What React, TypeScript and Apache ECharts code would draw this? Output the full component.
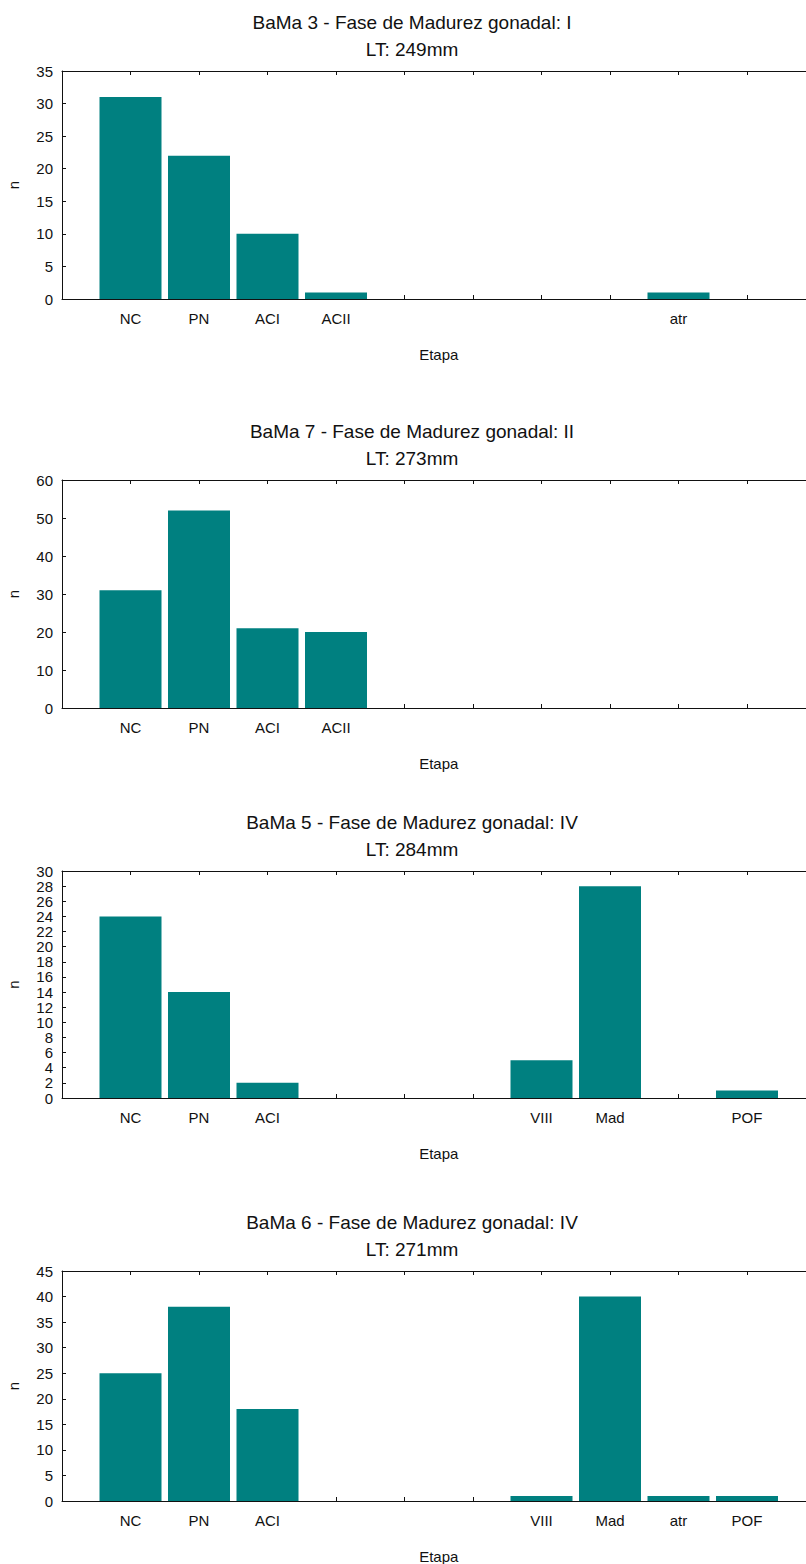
import React, { useEffect, useRef } from "react";
import * as echarts from "echarts";

// Stage categories (positions 5 and 6 never carry data, so their names are not shown)
const stages: string[] = ["NC", "PN", "ACI", "ACII", "", "", "VIII", "Mad", "atr", "POF"];

// Counts per stage for each specimen (null = no bar drawn)
const bama3: (number | null)[] = [31, 22, 10, 1, 0, 0, 0, 0, 1, null];
const bama7: (number | null)[] = [31, 52, 21, 20, null, null, null, null, null, null];
const bama5: (number | null)[] = [24, 14, 2, 0, 0, 0, 5, 28, 0, 1];
const bama6: (number | null)[] = [25, 38, 18, 0, 0, 0, 1, 40, 1, 1];

const titles: string[] = [
  "BaMa 3 - Fase de Madurez gonadal: I",
  "BaMa 7 - Fase de Madurez gonadal: II",
  "BaMa 5 - Fase de Madurez gonadal: IV",
  "BaMa 6 - Fase de Madurez gonadal: IV",
];
const subtitles: string[] = ["LT: 249mm", "LT: 273mm", "LT: 284mm", "LT: 271mm"];
const yMax: number[] = [35, 60, 30, 45];
const yStep: number[] = [5, 10, 2, 5];
const xMax = 11;
const panels = [bama3, bama7, bama5, bama6];

const gridTops = [71, 480, 871, 1271];
const gridHeights = [228, 228, 227, 230];
const GRID_LEFT = 62;
const GRID_WIDTH = 753.5;
const FONT = "'Liberation Sans', Arial, sans-serif";

export default function App() {
  const ref = useRef<HTMLDivElement>(null);
  useEffect(() => {
    if (!ref.current) return;
    const chart = echarts.init(ref.current, null, { renderer: "svg" });
    const grid: any[] = [];
    const xAxis: any[] = [];
    const yAxis: any[] = [];
    const series: any[] = [];
    const graphic: any[] = [];
    const axisLineStyle = { color: "#111", width: 1 };

    panels.forEach((data, p) => {
      grid.push({
        left: GRID_LEFT,
        top: gridTops[p],
        width: GRID_WIDTH,
        height: gridHeights[p],
        containLabel: false,
        outerBoundsMode: "none",
      });
      const fmt = (v: number) => {
        const i = Math.round(v) - 1;
        if (Math.abs(v - Math.round(v)) > 1e-6 || i < 0 || i >= stages.length) return "";
        const d = data[i];
        return d != null && d > 0 ? stages[i] : "";
      };
      xAxis.push({
        type: "value",
        gridIndex: p,
        position: "bottom",
        min: 0,
        max: xMax,
        interval: 1,
        name: "Etapa",
        nameLocation: "middle",
        nameGap: 48,
        nameTextStyle: { fontSize: 15, color: "#111", fontFamily: FONT },
        axisLine: { show: true, onZero: false, lineStyle: axisLineStyle },
        axisTick: { show: true, inside: true, length: 4, lineStyle: axisLineStyle },
        splitLine: { show: false },
        axisLabel: { formatter: fmt, fontSize: 15, color: "#111", margin: 12, fontFamily: FONT },
      });
      xAxis.push({
        type: "value",
        gridIndex: p,
        position: "top",
        min: 0,
        max: xMax,
        interval: 1,
        axisLine: { show: true, onZero: false, lineStyle: axisLineStyle },
        axisTick: { show: true, inside: true, length: 4, lineStyle: axisLineStyle },
        splitLine: { show: false },
        axisLabel: { show: false },
      });
      yAxis.push({
        type: "value",
        gridIndex: p,
        min: 0,
        max: yMax[p],
        interval: yStep[p],
        name: "n",
        nameLocation: "middle",
        nameRotate: 90,
        nameGap: 41,
        nameTextStyle: { fontSize: 15, color: "#111", fontFamily: FONT },
        axisLine: { show: true, onZero: false, lineStyle: axisLineStyle },
        axisTick: { show: true, inside: true, length: 4, lineStyle: axisLineStyle },
        splitLine: { show: false },
        axisLabel: {
          fontSize: 15,
          lineHeight: 14,
          color: "#111",
          margin: 9,
          fontFamily: FONT,
          showMinLabel: true,
          showMaxLabel: true,
          hideOverlap: false,
        },
      });
      series.push({
        type: "bar",
        xAxisIndex: p * 2,
        yAxisIndex: p,
        barWidth: 62,
        itemStyle: { color: "#008080" },
        data: data
          .map((v, i) => (v == null ? null : [i + 1, v]))
          .filter((d) => d != null),
      });
      graphic.push({
        type: "text",
        x: 412,
        y: gridTops[p] - 48.5,
        style: { text: titles[p], fontSize: 19, fill: "#111", fontFamily: FONT, align: "center", verticalAlign: "middle" },
      });
      graphic.push({
        type: "text",
        x: 412,
        y: gridTops[p] - 22,
        style: { text: subtitles[p], fontSize: 19, fill: "#111", fontFamily: FONT, align: "center", verticalAlign: "middle" },
      });
    });

    chart.setOption({
      animation: false,
      backgroundColor: "#ffffff",
      grid,
      xAxis,
      yAxis,
      series,
      graphic,
    });
    return () => chart.dispose();
  }, []);
  return (
    <div
      ref={ref}
      style={{ position: "absolute", left: 0, top: 0, width: 806, height: 1564 }}
    />
  );
}
